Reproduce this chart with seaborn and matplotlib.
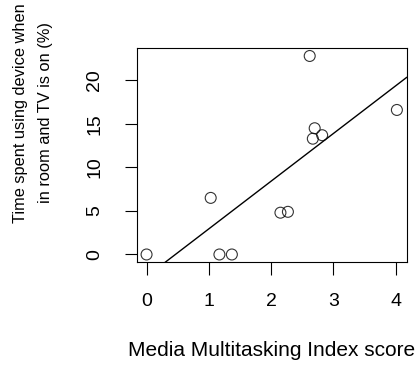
import seaborn as sns
import matplotlib.pyplot as plt
import numpy as np
import pandas as pd

# media multitasking index vs % of time on device while TV is on
mmi = [0.00, 1.03, 1.17, 1.37, 2.15, 2.27, 2.62, 2.70, 2.67, 2.82, 4.02]
pct = [0.0, 6.5, 0.0, 0.0, 4.8, 4.9, 22.8, 14.5, 13.3, 13.7, 16.6]
xticks = [0, 1, 2, 3, 4]
yticks = [0, 5, 10, 15, 20]

df = pd.DataFrame({"mmi": mmi, "pct": pct})

sns.set_style("ticks", {"text.color": "black", "xtick.color": "black",
                        "ytick.color": "black", "axes.edgecolor": "black"})
plt.rcParams['font.family'] = ['Liberation Sans', 'DejaVu Sans']

fig = plt.figure(figsize=(4.19, 3.67), dpi=100)
ax = fig.add_axes([0.326, 0.285, 0.645, 0.585])
ax.set_xlim(-0.16, 4.18)
ax.set_ylim(-0.91, 23.75)

sns.regplot(x="mmi", y="pct", data=df, ax=ax, ci=None, truncate=False,
            scatter_kws=dict(s=62, facecolors="none", edgecolors="black", linewidths=0.8),
            line_kws=dict(color="black", lw=1))

ax.set_xticks(xticks)
ax.set_yticks(yticks)
ax.set_xticklabels([str(t) for t in xticks], fontsize=14)
ax.set_yticklabels([str(t) for t in yticks], fontsize=14, rotation=90, va="center")
ax.tick_params(direction="out", length=9, width=0.8, color="black", labelcolor="black")
ax.tick_params(axis="x", pad=13)
ax.tick_params(axis="y", pad=15)
for s in ax.spines.values():
    s.set_visible(True)
    s.set_color("black")
    s.set_linewidth(0.8)
ax.set_xlabel("")
ax.set_ylabel("")

fig.text(272 / 419, 1 - 350 / 367, "Media Multitasking Index score",
         ha="center", va="center", fontsize=15, color="black")
fig.text(33 / 419, 1 - 113 / 367, "Time spent using device when\nin room and TV is on (%)",
         ha="center", va="center", rotation=90, fontsize=11.8, linespacing=1.9,
         multialignment="center", color="black")

plt.savefig("out.png", dpi=100)
